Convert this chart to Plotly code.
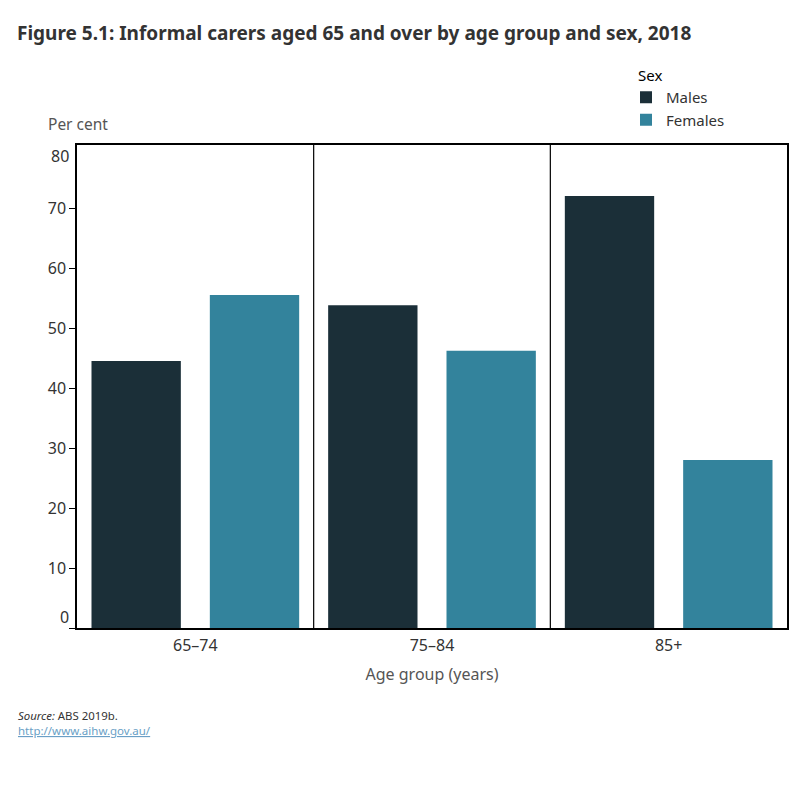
import plotly.graph_objects as go

age_groups = ["65–74", "75–84", "85+"]
males = [44.5, 53.8, 72.0]
females = [55.5, 46.2, 28.0]
y_ticks = [0, 10, 20, 30, 40, 50, 60, 70]
y_labels = ["", "10", "20", "30", "40", "50", "60", "70"]

MALE_C = "#1b2f38"
FEMALE_C = "#33839c"
FONT = "Noto Sans"

fig = go.Figure()
fig.add_trace(go.Bar(name="Males", x=age_groups, y=males, marker_color=MALE_C, marker_line_width=0))
fig.add_trace(go.Bar(name="Females", x=age_groups, y=females, marker_color=FEMALE_C, marker_line_width=0))

fig.update_layout(
    width=800, height=800,
    margin=dict(l=77, r=13, t=145, b=172),
    paper_bgcolor="white", plot_bgcolor="white",
    barmode="group", bargap=0.0, bargroupgap=0.245,
    font=dict(family=FONT, color="#333333", size=14),
    showlegend=True,
    legend=dict(
        x=(626 - 77) / 710, xanchor="left", y=1 + (145 - 81) / 483, yanchor="top",
        font=dict(size=15, color="#333333"),
        itemwidth=30, tracegroupgap=0,
        bgcolor="rgba(0,0,0,0)",
    ),
    xaxis=dict(
        showline=True, linecolor="black", linewidth=1.5, mirror=True,
        ticks="", tickfont=dict(size=16, color="#333333"), ticklabelstandoff=2,
        title=dict(text="Age group (years)", font=dict(size=16, color="#555555"), standoff=14),
        showgrid=False,
    ),
    yaxis=dict(
        range=[0, 80.5], showline=True, linecolor="black", linewidth=1.5, mirror=True,
        tickvals=y_ticks, ticktext=y_labels, ticks="outside", ticklen=6, tickcolor="black", tickwidth=1,
        tickfont=dict(size=16, color="#333333"),
        showgrid=False, zeroline=False,
    ),
)

for xv in [0.5, 1.5]:
    fig.add_shape(type="line", xref="x", yref="paper", x0=xv, x1=xv, y0=0, y1=1,
                  line=dict(color="black", width=1.2))

ann = [
    dict(text="<b>Figure 5.1: Informal carers aged 65 and over by age group and sex, 2018</b>",
         x=15, y=33, font=dict(size=19, color="#333333")),
    dict(text="Per cent", x=46, y=124, font=dict(size=15.5, color="#555555")),
    dict(text="Sex", x=636, y=75, font=dict(size=15, color="#000000")),
    dict(text="<i>Source:</i> ABS 2019b.", x=16, y=715, font=dict(size=11.4, color="#333333")),
    dict(text="<u>http://www.aihw.gov.au/</u>", x=16, y=730, font=dict(size=11.5, color="#6a9fc6")),
]
for a in ann:
    fig.add_annotation(text=a["text"], xref="paper", yref="paper",
                       x=(a["x"] - 77) / 710, y=1 - (a["y"] - 145) / 483,
                       xanchor="left", yanchor="middle", showarrow=False, font=a["font"])

# end labels shifted inward as in the reference
fig.add_annotation(text="0", xref="paper", yref="paper", x=-(77 - 71) / 710, y=(628 - 617) / 483,
                   xanchor="right", yanchor="middle", showarrow=False, font=dict(size=16, color="#333333"))
fig.add_annotation(text="80", xref="paper", yref="paper", x=-(77 - 71) / 710, y=1 - (156 - 145) / 483,
                   xanchor="right", yanchor="middle", showarrow=False, font=dict(size=16, color="#333333"))

fig.write_html("out.html")
